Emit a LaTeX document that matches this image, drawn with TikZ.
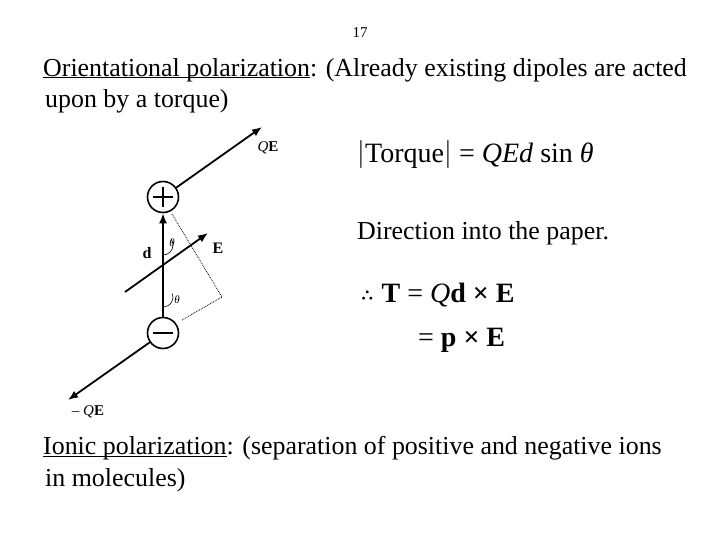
\documentclass[tikz,border=0pt]{standalone}
\usepackage{fontspec}
\setmainfont{Liberation Serif}
\usepackage{unicode-math}
\setmathfont{Latin Modern Math}
\usetikzlibrary{arrows.meta}
\newsavebox{\ulbox}
\newcommand{\myul}[1]{\sbox{\ulbox}{#1}\rlap{\rule[-2.2pt]{\wd\ulbox}{0.9pt}}\usebox{\ulbox}}
\begin{document}
\begin{tikzpicture}[x=1pt,y=-1pt,
  txt/.style={anchor=west,inner sep=0pt,font=\fontsize{25.9}{28}\selectfont},
  lbl/.style={inner sep=0pt,font=\fontsize{15}{16}\selectfont},
  chg/.style={circle,draw,line width=1.6pt,minimum size=31pt,inner sep=0pt},
  vec/.style={line width=1.8pt,-{Latex[length=10pt,width=8pt]}},
  eq/.style={anchor=west,inner sep=0pt,font=\fontsize{28}{30}\selectfont}]
\useasboundingbox (0,0) rectangle (720,540);
\node[lbl] (pg) at (360,33) {17};
\node[txt] (l1) at (43,70) {\myul{Orientational polarization}: (Already existing dipoles are acted};
\node[txt] (l2) at (45,101) {upon by a torque)};
\node[chg] (p) at (163,197) {};
\node[chg] (m) at (163,333) {};
\draw[line width=1.6pt] (153,197) -- (173,197) (163,187) -- (163,207);
\draw[line width=1.8pt] (153,333) -- (173,333);
\coordinate (qe) at (262,127);
\coordinate (mqe) at (68,400);
\draw[vec] (p) -- (qe);
\draw[vec] (m) -- (mqe);
\coordinate (db) at (163,317);
\draw[vec] (db) -- (p.south);
\coordinate (e0) at (125,292); \coordinate (e1) at (208,233);
\draw[vec] (e0) -- (e1);
\coordinate (c1) at (172,214); \coordinate (c2) at (222,297); \coordinate (c3) at (182,320);
\draw[densely dotted,line width=0.8pt] (c1) -- (c2) -- (c3);
\draw[line width=0.6pt] (163,255) arc (90:-35:10);
\draw[line width=0.6pt] (163,307) arc (90:-19:10);
\node[lbl] (lqe) at (268,148) {\textit{Q}\textbf{E}};
\node[lbl] (lmqe) at (88,412) {– \textit{Q}\textbf{E}};
\node[lbl,font=\fontsize{16}{18}\selectfont] (ld) at (147,253) {\textbf{d}};
\node[lbl,font=\fontsize{16}{18}\selectfont] (le) at (218,248) {\textbf{E}};
\node[lbl,font=\fontsize{11}{12}\selectfont] (t1) at (172,243) {\textit{θ}};
\node[lbl,font=\fontsize{11}{12}\selectfont] (t2) at (177,300) {\textit{θ}};
\node[eq] (tq) at (357,155) {$\left|\vphantom{Tq}\right.$\kern-1pt Torque\kern-1pt$\left.\vphantom{Tq}\right|$ = \textit{QEd} sin \textit{θ}};
\node[txt] (dir) at (357,233) {Direction into the paper.};
\node[eq] (t) at (360,295) {$\therefore$ \textbf{T} = \textit{Q}\textbf{d × E}};
\node[eq] (t2b) at (418,340) {= \textbf{p × E}};
\node[txt] (l3) at (43,448) {\myul{Ionic polarization}: (separation of positive and negative ions};
\node[txt] (l4) at (45,480) {in molecules)};
\end{tikzpicture}
\end{document}
